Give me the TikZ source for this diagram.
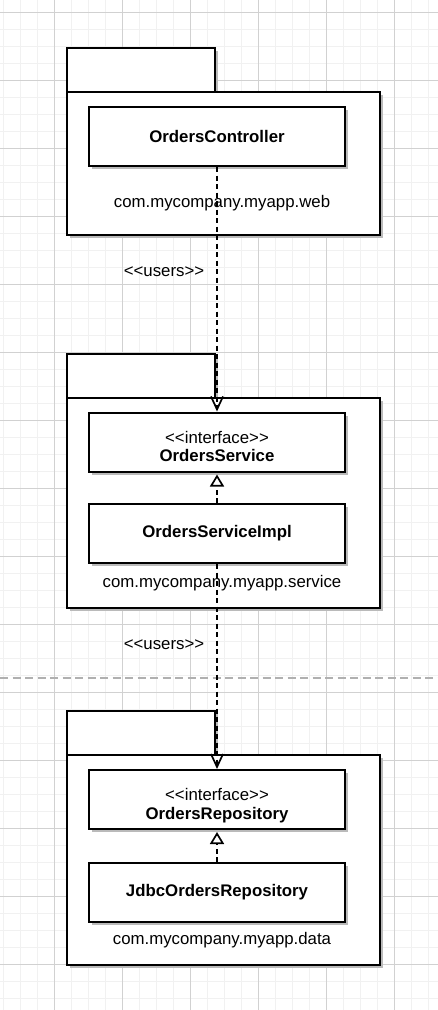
\documentclass[tikz,border=0pt]{standalone}
\usepackage{fontspec}
\setmainfont{Liberation Sans}
\usetikzlibrary{arrows.meta,shadows}
\definecolor{gridminor}{rgb}{0.945,0.945,0.945}%
\definecolor{gridmajor}{rgb}{0.820,0.820,0.820}%
\definecolor{shadowgray}{rgb}{0.730,0.730,0.730}%
\definecolor{breakgray}{rgb}{0.690,0.690,0.690}%
% stereotype text, kern keeps << from turning into a guillemet
\newcommand{\stereo}[1]{<\kern0pt<#1>\kern0pt>}
\newcommand{\ifacetext}[1]{\raisebox{-7pt}[\height][\depth]{\begin{tabular}{@{}c@{}}\stereo{interface}\\\bfseries #1\end{tabular}}}
\tikzset{
  every node/.style={font=\fontsize{16.8}{18.5}\selectfont},
  umlshadow/.style={drop shadow={shadow xshift=3pt,shadow yshift=-3pt,fill=shadowgray,opacity=1}},
  pkgtab/.style={draw,line width=2pt,fill=white,umlshadow,inner sep=0pt,
    minimum width=148pt,minimum height=44pt,anchor=north west},
  pkgbody/.style={draw,line width=2pt,fill=white,umlshadow,inner sep=0pt,
    minimum width=313pt,anchor=north west},
  classbox/.style={draw,line width=2pt,fill=white,umlshadow,inner sep=0pt,
    minimum width=256pt,minimum height=59pt,align=center},
  pkglabel/.style={inner sep=0pt},
  uses/.style={line width=2pt,dash pattern=on 5pt off 3.5pt,
    -{Straight Barb[length=13pt,width=12pt,line width=1.7pt]}},
  realizes/.style={line width=2pt,dash pattern=on 5pt off 3.5pt,shorten >=2pt,
    -{Triangle[open,length=12pt,width=14pt,line width=1.7pt,fill=white]}}
}
\begin{document}
\begin{tikzpicture}[x=1pt,y=-1pt]
  \useasboundingbox (0,0) rectangle (438,1010);
  \fill[white] (0,0) rectangle (438,1010);

  % Drawing the grid
  \foreach \gx in {3,20,...,436} \draw[gridminor,line width=1pt] (\gx,0) -- (\gx,1010);
  \foreach \gy in {12,29,...,1000} \draw[gridminor,line width=1pt] (0,\gy) -- (438,\gy);
  \foreach \gx in {54,122,...,394} \draw[gridmajor,line width=1pt] (\gx,0) -- (\gx,1010);
  \foreach \gy in {12,80,...,964} \draw[gridmajor,line width=1pt] (0,\gy) -- (438,\gy);

  % Page break line
  \draw[breakgray,line width=1.5pt,dash pattern=on 8pt off 4.5pt] (0,678) -- (438,678);

  % Package com.mycompany.myapp.web
  \node[pkgtab] (webtab) at (66,47) {};
  \node[pkgbody,minimum height=143pt] (webpkg) at (66,91) {};
  \node[classbox] (ctrl) at (217,136.5) {\bfseries OrdersController};
  \node[pkglabel] (weblabel) at (222,203) {com.mycompany.myapp.web};

  % Package com.mycompany.myapp.service
  \node[pkgtab] (svctab) at (66,353) {};
  \node[pkgbody,minimum height=210pt] (svcpkg) at (66,397) {};
  \node[classbox] (svc) at (217,442) {\ifacetext{OrdersService}};
  \node[classbox] (svcimpl) at (217,533.5) {\bfseries OrdersServiceImpl};
  \node[pkglabel] (svclabel) at (222,583) {com.mycompany.myapp.service};

  % Package com.mycompany.myapp.data
  \node[pkgtab] (datatab) at (66,710) {};
  \node[pkgbody,minimum height=210pt] (datapkg) at (66,754) {};
  \node[classbox] (repo) at (217,799.5) {\ifacetext{OrdersRepository}};
  \node[classbox] (jdbc) at (217,892.5) {\bfseries JdbcOrdersRepository};
  \node[pkglabel] (datalabel) at (222,940) {com.mycompany.myapp.data};

  % Realizations
  \draw[realizes] (svcimpl.north) -- (svc.south);
  \draw[realizes] (jdbc.north) -- (repo.south);

  % Dependencies
  \draw[uses] (ctrl.south) -- (svc.north);
  \node[pkglabel] (uses1) at (164,272) {\stereo{users}};
  \draw[uses] (svcimpl.south) -- (repo.north);
  \node[pkglabel] (uses2) at (164,645) {\stereo{users}};
\end{tikzpicture}
\end{document}
